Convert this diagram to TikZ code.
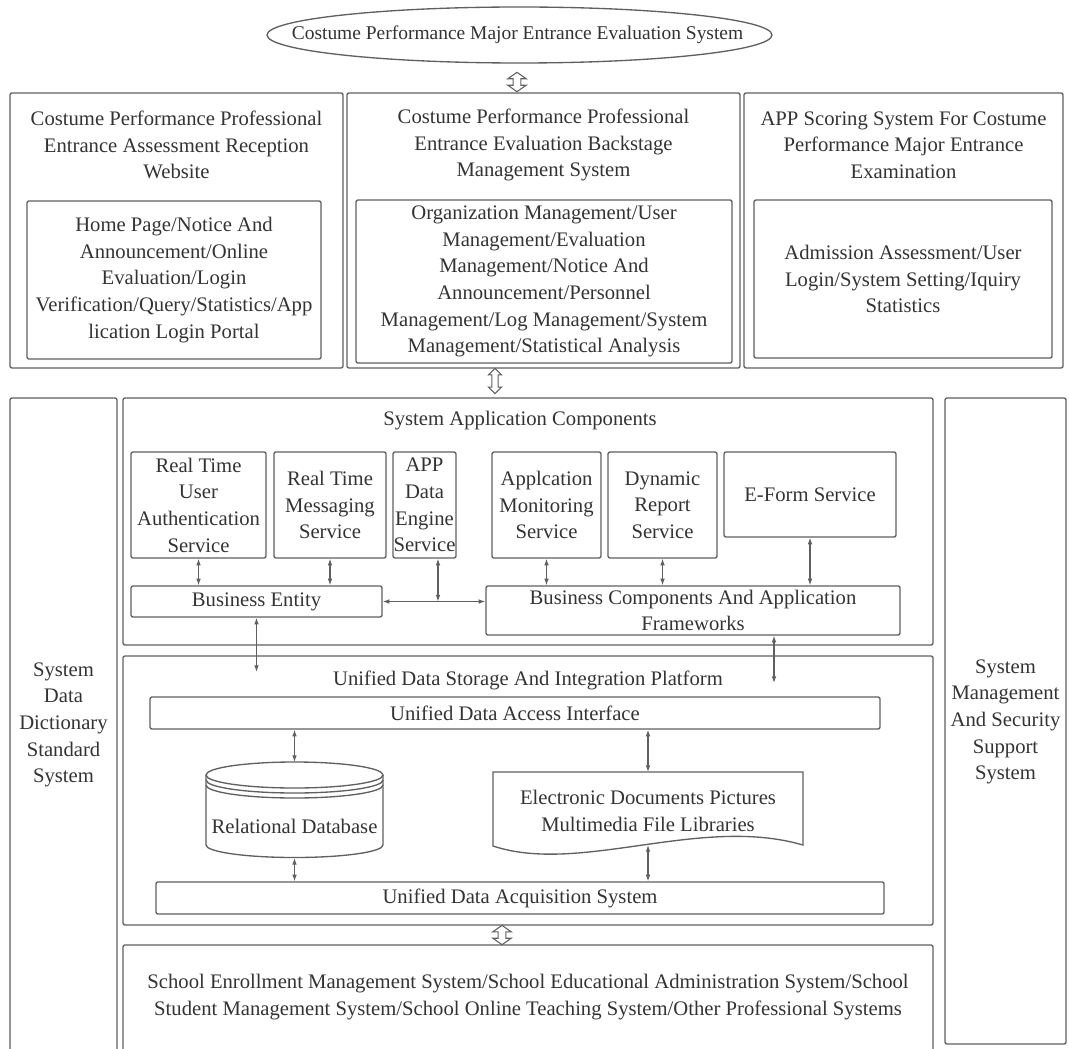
\documentclass[tikz,border=0pt]{standalone}
\usepackage{fontspec}
\setmainfont{Liberation Serif}
\usetikzlibrary{shapes.arrows,arrows.meta}
\definecolor{linegray}{HTML}{606060}
\definecolor{txtgray}{HTML}{333333}

\begin{document}
\begin{tikzpicture}[x=0.75pt,y=-0.75pt,
    font=\fontsize{15.5}{20}\selectfont,text=txtgray,
    box/.style={draw=linegray,line width=1pt,rounded corners=1.5pt,inner sep=0pt,align=center},
    sz/.style 2 args={minimum width=#1*0.75pt,minimum height=#2*0.75pt},
    lbl/.style={align=center,inner sep=0pt},
    link/.style={<->,>={Latex[length=5pt,width=3.5pt]},draw=linegray,line width=0.8pt},
    fatarrow/.style={double arrow,draw=linegray,line width=0.8pt,rotate=90,inner sep=2.5pt,
      double arrow head extend=4pt,double arrow tip angle=110,minimum height=14.5pt}]
  \clip (0,0) rectangle (1069,1048);

  % top level
  \node[lbl,font=\fontsize{14.6}{20}\selectfont] (sys) at (517.5,35) {Costume Performance Major Entrance Evaluation System};
  \draw[linegray,line width=1pt] (519.5,35) ellipse [x radius=252.5,y radius=28];
  \node[fatarrow] (a1) at (517,82) {};

  \node[box,sz={333}{275}] (web) at (176.5,230.5) {};
  \node[box,sz={393}{275}] (back) at (543.5,230.5) {};
  \node[box,sz={319}{275}] (app) at (903.5,230.5) {};
  \node[lbl] (webt) at (176.5,145) {Costume Performance Professional\\Entrance Assessment Reception\\Website};
  \node[lbl] (backt) at (543.5,145) {Costume Performance Professional\\Entrance Evaluation Backstage\\Management System};
  \node[lbl] (appt) at (903.5,145) {APP Scoring System For Costume\\Performance Major Entrance\\Examination};
  \node[box,sz={294}{158}] (webm) at (174,280) {Home Page/Notice And\\Announcement/Online\\Evaluation/Login\\Verification/Query/Statistics/App\\lication Login Portal};
  \node[box,sz={376}{163}] (backm) at (544,281.5) {Organization Management/User\\Management/Evaluation\\Management/Notice And\\Announcement/Personnel\\Management/Log Management/System\\Management/Statistical Analysis};
  \node[box,sz={298}{158}] (appm) at (903,279) {Admission Assessment/User\\Login/System Setting/Iquiry\\Statistics};

  \node[fatarrow,inner sep=2pt,double arrow head extend=2.5pt,double arrow tip angle=90,minimum height=19pt] (a2) at (495,381) {};

  % side columns
  \node[box,sz={107}{662}] (dict) at (63.5,729) {};
  \node[lbl] (dictt) at (63.5,725) {System\\Data\\Dictionary\\Standard\\System};
  \node[box,sz={121}{646}] (mgmt) at (1005.5,721) {};
  \node[lbl] (mgmtt) at (1005.5,722) {System\\Management\\And Security\\Support\\System};

  % application components
  \node[box,sz={810}{247}] (comp) at (528,521.5) {};
  \node[lbl] (compt) at (520,421) {System Application Components};
  \node[box,sz={135}{106}] (auth) at (198.5,505) {Real Time\\User\\Authentication\\Service};
  \node[box,sz={112}{106}] (msg) at (330,505) {Real Time\\Messaging\\Service};
  \node[box,sz={63}{106}] (eng) at (424.5,505) {APP\\Data\\Engine\\Service};
  \node[box,sz={109}{106}] (mon) at (546.5,505) {Applcation\\Monitoring\\Service};
  \node[box,sz={109}{106}] (dyn) at (662.5,505) {Dynamic\\Report\\Service};
  \node[box,sz={172}{85}] (eform) at (810,494.5) {E-Form Service};
  \node[box,sz={251}{31}] (be) at (256.5,601.5) {Business Entity};
  \node[box,sz={414}{49}] (bc) at (693,610.5) {Business Components And Application\\Frameworks};
  \coordinate (j) at (438,601.5);

  \draw[link] (auth.south) -- (auth.south |- be.north);
  \draw[link] (msg.south) -- (msg.south |- be.north);
  \draw[link] (mon.south) -- (mon.south |- bc.north);
  \draw[link] (dyn.south) -- (dyn.south |- bc.north);
  \draw[link] (eform.south) -- (eform.south |- bc.north);
  \draw[link] (be.east) -- (be.east -| bc.west);
  \draw[link] (eng.south -| j) -- (j);

  % storage platform
  \node[box,sz={810}{269}] (store) at (528,790.5) {};
  \node[lbl] (storet) at (528,680) {Unified Data Storage And Integration Platform};
  \coordinate (beend) at (256.5,672);
  \coordinate (bcend) at (774,683);
  \draw[link] (be.south) -- (beend);
  \draw[link] (bc.south -| bcend) -- (bcend);

  \node[box,sz={730}{32}] (udai) at (515,713) {Unified Data Access Interface};
  \node[box,sz={728}{32}] (udacq) at (520,898) {Unified Data Acquisition System};

  % relational database
  \draw[linegray,line width=1pt,fill=white] (206,775) -- (206,845) arc(180:0:88.5 and 12.5) -- (383,775);
  \draw[linegray,line width=1pt] (294.5,775) ellipse [x radius=88.5,y radius=13];
  \foreach \d in {5,10}
    \draw[linegray,line width=1pt] (206,775+\d) arc(180:0:88.5 and 13);
  \node[lbl] (rdb) at (294.5,826) {Relational Database};
  \coordinate (rdbtop) at (294.5,762);
  \coordinate (rdbbot) at (294.5,858);
  \draw[link] (udai.south -| rdbtop) -- (rdbtop);
  \draw[link] (rdbbot) -- (rdbbot |- udacq.north);

  % file libraries
  \draw[linegray,line width=1pt] (493,772) -- (803,772) -- (803,845)
    .. controls (700,815) and (580,875) .. (493,846) -- cycle;
  \node[lbl] (docs) at (648,811) {Electronic Documents Pictures\\Multimedia File Libraries};
  \coordinate (doctop) at (648,772);
  \coordinate (docbot) at (648,845);
  \draw[link] (udai.south -| doctop) -- (doctop);
  \draw[link] (docbot) -- (docbot |- udacq.north);

  \node[fatarrow] (a3) at (502,935) {};

  % school systems
  \node[box,sz={810}{115}] (school) at (528,1002.5) {};
  \node[lbl] (schoolt) at (528,997) {School Enrollment Management System/School Educational Administration System/School\\Student Management System/School Online Teaching System/Other Professional Systems};
\end{tikzpicture}
\end{document}
